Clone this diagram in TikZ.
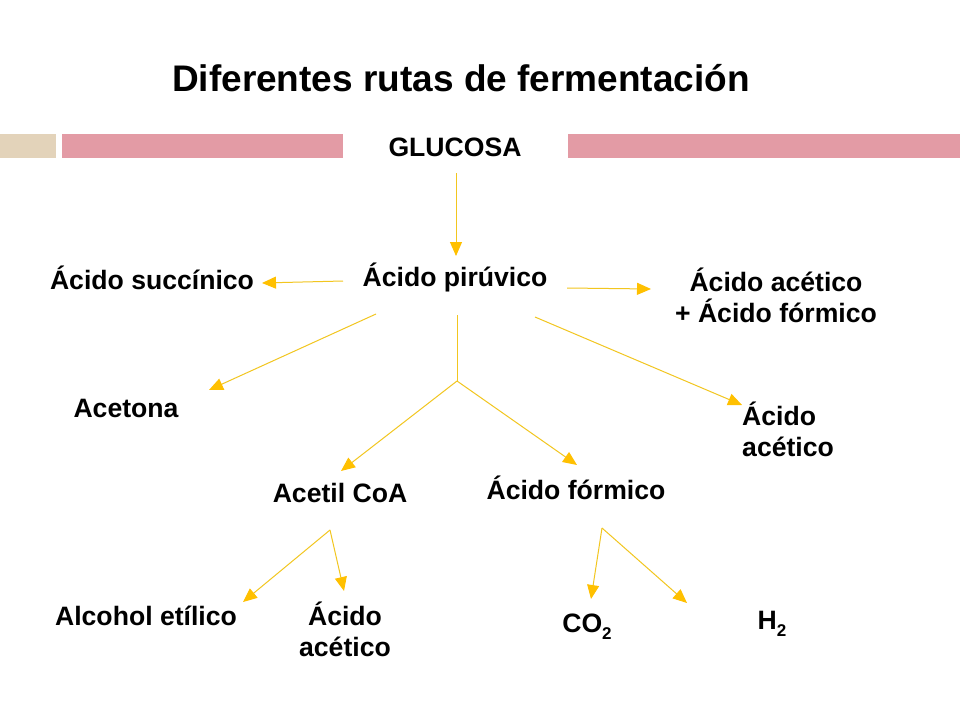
\documentclass[tikz,border=0pt]{standalone}
\usepackage{fontspec}
\setmainfont{Liberation Sans}
\usetikzlibrary{arrows.meta,calc}
\definecolor{barpink}{HTML}{E39BA5}
\definecolor{barbeige}{HTML}{E3D3BA}
\definecolor{arrline}{HTML}{F2C61F}
\definecolor{arrhead}{HTML}{FFC000}
\newcommand{\twoC}[2]{\vtop{\baselineskip=31pt\halign{\hfil##\hfil\cr #1\cr #2\cr}}}
\newcommand{\twoLft}[2]{\vtop{\baselineskip=31pt\halign{##\hfil\cr #1\cr #2\cr}}}
\newcommand{\subtwo}{\raisebox{-0.28em}{\fontsize{17}{17}\selectfont 2}}
\tikzset{
  lbl/.style={inner sep=0pt, anchor=base, font=\fontsize{26.6}{31}\selectfont\bfseries, text=black},
  arr/.style={draw=arrline, line width=1pt, -{Triangle[length=14pt,width=12pt,fill=arrhead,color=arrhead]}},
  ln/.style={draw=arrline, line width=1pt},
  bar/.style={draw=none}
}
\begin{document}
\begin{tikzpicture}[x=1pt,y=-1pt]
\useasboundingbox (0,0) rectangle (960,720);
\fill[white] (0,0) rectangle (960,720);
% bars
\fill[barbeige] (0,134) rectangle (56,158);
\fill[barpink] (62,134) rectangle (343,158);
\fill[barpink] (568,134) rectangle (960,158);
% title
\node[inner sep=0pt, anchor=base, font=\fontsize{37}{40}\selectfont\bfseries] (title) at (461,91) {Diferentes rutas de fermentación};
% nodes
\node[lbl] (glu) at (455,156) {GLUCOSA};
\node[lbl] (pir) at (455,286) {Ácido pirúvico};
\node[lbl] (suc) at (152,289) {Ácido succínico};
\node[lbl] (aaf) at (776,291) {\twoC{Ácido acético}{+ Ácido fórmico}};
\node[lbl] (ace) at (126,417) {Acetona};
\node[lbl, anchor=base west] (aacR) at (742,425) {\twoLft{Ácido}{acético}};
\node[lbl] (acoa) at (340,502) {Acetil CoA};
\node[lbl] (for) at (576,499) {Ácido fórmico};
\node[lbl] (alc) at (146,625) {Alcohol etílico};
\node[lbl] (aacB) at (345,625) {\twoC{Ácido}{acético}};
\node[lbl] (co2) at (587,632) {CO\subtwo};
\node[lbl] (h2) at (772,629) {H\subtwo};
\coordinate (j) at (457,381);
% connectors
\draw[arr] ($(glu.base)+(1,17)$) -- ($(pir.base)+(1,-30)$);
\draw[arr] ($(pir.base)+(-112,-5)$) -- ($(suc.base)+(110,-6)$);
\draw[arr] ($(pir.base)+(112,2)$) -- ($(aaf.base)+(-125,-2)$);
\draw[arr] ($(pir.base)+(-79,28)$) -- ($(ace.base)+(83,-27)$);
\draw[arr] ($(pir.base)+(80,31)$) -- ($(aacR.base west)+(0,-20)$);
\draw[ln] ($(pir.base)+(2,29)$) -- (j);
\draw[arr] (j) -- ($(acoa.base)+(1,-31)$);
\draw[arr] (j) -- ($(for.base)+(1,-34)$);
\draw[arr] ($(acoa.base)+(-10,28)$) -- ($(alc.base)+(97,-23)$);
\draw[arr] ($(acoa.base)+(-10,28)$) -- ($(aacB.base)+(-1,-34)$);
\draw[arr] ($(for.base)+(26,29)$) -- ($(co2.base)+(4,-33)$);
\draw[arr] ($(for.base)+(26,29)$) -- ($(h2.base)+(-85,-26)$);
\end{tikzpicture}
\end{document}
